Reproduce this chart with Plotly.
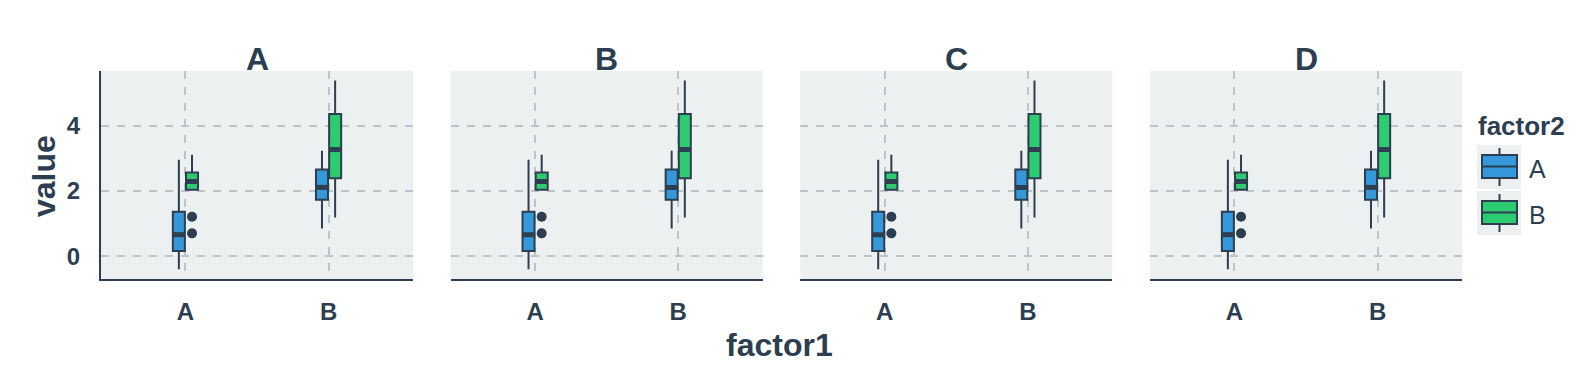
import plotly.graph_objects as go

W, H = 1591, 377

# ---------------- data (all facets identical) ----------------
facets = ["A", "B", "C", "D"]
factor1 = ["A", "B"]
factor2 = ["A", "B"]

# box statistics per factor2 group, indexed by factor1 category (A, B)
stats_f2A = dict(
    lowerfence=[-0.40, 0.85],
    q1=[0.16, 1.73],
    median=[0.66, 2.11],
    q3=[1.36, 2.66],
    upperfence=[2.96, 3.23],
)
stats_f2B = dict(
    lowerfence=[2.04, 1.19],
    q1=[2.04, 2.39],
    median=[2.29, 3.27],
    q3=[2.57, 4.36],
    upperfence=[3.11, 5.39],
)
# outliers: (factor1 category, value)
outliers_f2A = []
outliers_f2B = [("A", 1.21), ("A", 0.70)]

y_ticks = [0, 2, 4]

# ---------------- styling ----------------
DARK = "#2c3e50"
BG = "#ecf0f1"
GRID = "#bdc3c7"
COLORS = {"A": "#3498db", "B": "#2ecc71"}
FONT = "Liberation Sans, Arial, sans-serif"

BOX_W = 0.084
DODGE = 0.046

panel_left0 = 101
panel_w = 312
panel_step = 349.67
plot_top, plot_bot = 71, 279

def px(x):
    return x / W

def py(y):
    return 1 - y / H

fig = go.Figure()
layout_axes = {}

group_stats = {"A": stats_f2A, "B": stats_f2B}
group_out = {"A": outliers_f2A, "B": outliers_f2B}
group_off = {"A": -DODGE, "B": DODGE}

for i, facet in enumerate(facets):
    xa = "x" if i == 0 else f"x{i+1}"
    ya = "y" if i == 0 else f"y{i+1}"
    for g in factor2:
        st = group_stats[g]
        pos = [factor1.index(c) + group_off[g] for c in factor1]
        fig.add_trace(go.Box(
            x=pos, q1=st["q1"], median=st["median"], q3=st["q3"],
            lowerfence=st["lowerfence"], upperfence=st["upperfence"],
            width=BOX_W, fillcolor=COLORS[g],
            line=dict(color=DARK, width=2), whiskerwidth=0,
            boxpoints=False, showlegend=False, hoverinfo="skip",
            xaxis=xa, yaxis=ya,
        ))
        # thicker median band
        for p, m in zip(pos, st["median"]):
            fig.add_trace(go.Scatter(
                x=[p - BOX_W / 2, p + BOX_W / 2], y=[m, m], mode="lines",
                line=dict(color=DARK, width=5), showlegend=False,
                hoverinfo="skip", xaxis=xa, yaxis=ya,
            ))
        if group_out[g]:
            fig.add_trace(go.Scatter(
                x=[factor1.index(c) + group_off[g] for c, _ in group_out[g]],
                y=[v for _, v in group_out[g]], mode="markers",
                marker=dict(color=DARK, size=10), showlegend=False,
                hoverinfo="skip", xaxis=xa, yaxis=ya,
            ))

    left = panel_left0 + i * panel_step
    key = "" if i == 0 else str(i + 1)
    layout_axes["xaxis" + key] = dict(
        domain=[px(left), px(left + panel_w)],
        range=[-0.59, 1.59], tickvals=[0, 1], ticktext=factor1,
        showgrid=True, gridcolor=GRID, gridwidth=2, griddash="8px,8px",
        zeroline=False, showline=True, linecolor=DARK, linewidth=2,
        ticks="", ticklabelstandoff=10,
        tickfont=dict(family=FONT, size=24, color=DARK, weight="bold"),
        anchor=ya.replace("y", "y") if True else None,
    )
    layout_axes["yaxis" + key] = dict(
        domain=[py(plot_bot), py(plot_top)],
        range=[-0.70, 5.68], tickvals=y_ticks,
        showgrid=True, gridcolor=GRID, gridwidth=2, griddash="8px,8px",
        zeroline=False, showline=(i == 0), linecolor=DARK, linewidth=2,
        showticklabels=(i == 0), ticks="", ticklabelstandoff=14,
        tickfont=dict(family=FONT, size=24, color=DARK, weight="bold"),
        anchor=xa,
    )
    layout_axes["xaxis" + key]["anchor"] = ya

annotations = []
shapes = []
for i, facet in enumerate(facets):
    left = panel_left0 + i * panel_step
    annotations.append(dict(
        text=facet, x=px(left + panel_w / 2), y=py(59), xref="paper", yref="paper",
        xanchor="center", yanchor="middle", showarrow=False,
        font=dict(family=FONT, size=32, color=DARK, weight="bold"),
    ))

annotations.append(dict(
    text="factor1", x=px(779), y=py(345), xref="paper", yref="paper",
    xanchor="center", yanchor="middle", showarrow=False,
    font=dict(family=FONT, size=32, color=DARK, weight="bold"),
))
annotations.append(dict(
    text="value", x=px(44), y=py(176), xref="paper", yref="paper",
    xanchor="center", yanchor="middle", showarrow=False, textangle=-90,
    font=dict(family=FONT, size=32, color=DARK, weight="bold"),
))

# ---------------- custom legend ----------------
annotations.append(dict(
    text="factor2", x=px(1476), y=py(126), xref="paper", yref="paper",
    xanchor="left", yanchor="middle", showarrow=False,
    font=dict(family=FONT, size=26, color=DARK, weight="bold"),
))
for k, g in enumerate(factor2):
    dy = k * 46
    shapes.append(dict(type="rect", xref="paper", yref="paper",
                       x0=px(1477), x1=px(1521), y0=py(145 + dy), y1=py(189 + dy),
                       fillcolor=BG, line=dict(width=0), layer="above"))
    shapes.append(dict(type="line", xref="paper", yref="paper",
                       x0=px(1499.5), x1=px(1499.5), y0=py(148 + dy), y1=py(186 + dy),
                       line=dict(color=DARK, width=2), layer="above"))
    shapes.append(dict(type="rect", xref="paper", yref="paper",
                       x0=px(1482), x1=px(1517), y0=py(155 + dy), y1=py(178 + dy),
                       fillcolor=COLORS[g], line=dict(color=DARK, width=2), layer="above"))
    shapes.append(dict(type="line", xref="paper", yref="paper",
                       x0=px(1482), x1=px(1517), y0=py(166.5 + dy), y1=py(166.5 + dy),
                       line=dict(color=DARK, width=2), layer="above"))
    annotations.append(dict(
        text=g, x=px(1527), y=py(169 + dy), xref="paper", yref="paper",
        xanchor="left", yanchor="middle", showarrow=False,
        font=dict(family=FONT, size=25, color=DARK),
    ))

fig.update_layout(
    width=W, height=H,
    margin=dict(l=0, r=0, t=0, b=0),
    paper_bgcolor="white", plot_bgcolor=BG,
    showlegend=False,
    annotations=annotations, shapes=shapes,
    font=dict(family=FONT, color=DARK),
    **layout_axes,
)

fig.write_html("out.html")
